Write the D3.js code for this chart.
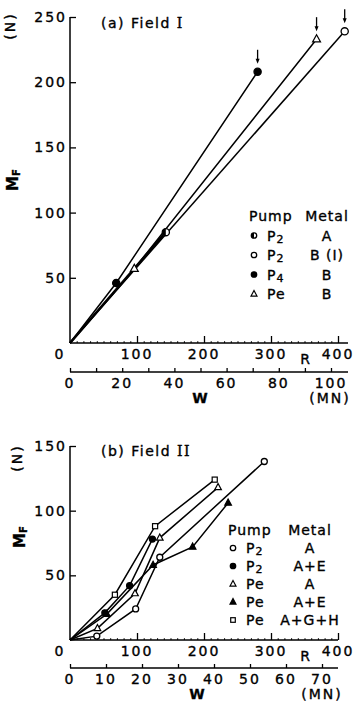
<!DOCTYPE html>
<html>
<head>
<meta charset="utf-8">
<script src="https://cdn.jsdelivr.net/npm/d3@7"></script>
<style>
  body { margin: 0; background: #fff; }
  svg text { font-family: "DejaVu Sans", sans-serif; fill: #000; stroke: #000; stroke-width: 0.35px; }
</style>
</head>
<body>
<div class="chart"></div>
<script>
// tick values
const rTicks = [0, 100, 200, 300, 400];
const wTicksA = [0, 20, 40, 60, 80, 100];
const wTicksB = [0, 10, 20, 30, 40, 50, 60, 70];
const mTicksA = [50, 100, 150, 200, 250];
const mTicksB = [50, 100, 150];

// (a) Field I  -- [R, MF]
const p2A_a = [[0, 0], [143, 85]];
const p2B_a = [[0, 0], [410, 239]];
const p4B_a = [[0, 0], [69, 46], [280, 208]];
const peB_a = [[0, 0], [96, 57], [368, 233]];
const arrowsA = [[280, 208], [368, 233], [410, 239]];

const legPumpA = ["P2", "P2", "P4", "Pe"];
const legMetalA = ["A", "B (I)", "B", "B"];
const legSymA = ["half", "open", "filled", "tri"];

// (b) Field II
const p2A_b = [[0, 0], [40, 3], [98, 24], [134, 64], [290, 138]];
const p2AE_b = [[0, 0], [52, 21], [89, 42], [123, 78]];
const peA_b = [[0, 0], [41, 9], [97, 36], [134, 79], [221, 118]];
const peAE_b = [[0, 0], [55, 20], [124, 58], [183, 72], [236, 106]];
const peAGH_b = [[0, 0], [67, 35], [127, 88], [216, 124]];

const legPumpB = ["P2", "P2", "Pe", "Pe", "Pe"];
const legMetalB = ["A", "A+E", "A", "A+E", "A+G+H"];
const legSymB = ["open", "filled", "tri", "filledtri", "square"];

const svg = d3.select(".chart").append("svg")
    .attr("width", 357)
    .attr("height", 707);

function pumpText(sel, s, size) {
  sel.append("tspan").text(s[0]);
  sel.append("tspan").text(s.slice(1))
    .attr("font-size", /\d/.test(s[1]) ? size - 3 : size)
    .attr("dy", /\d/.test(s[1]) ? 2 : 0);
}

function marker(g, type, x, y, r) {
  if (type == "open" || type == "filled") {
    g.append("circle").attr("cx", x).attr("cy", y).attr("r", r)
      .attr("fill", type == "filled" ? "#000" : "#fff")
      .attr("stroke", "#000").attr("stroke-width", 1.3);
  } else if (type == "half") {
    g.append("circle").attr("cx", x).attr("cy", y).attr("r", r)
      .attr("fill", "#fff").attr("stroke", "#000").attr("stroke-width", 1.3);
    g.append("path")
      .attr("d", `M${x},${y - r}A${r},${r} 0 0 0 ${x},${y + r}Z`)
      .attr("fill", "#000");
  } else if (type == "tri" || type == "filledtri") {
    const h = r * 1.1;
    g.append("path")
      .attr("d", `M${x},${y - h - 0.5}L${x + h},${y + h * 0.7}L${x - h},${y + h * 0.7}Z`)
      .attr("fill", type == "filledtri" ? "#000" : "#fff")
      .attr("stroke", "#000").attr("stroke-width", 1.2);
  } else if (type == "square") {
    g.append("rect").attr("x", x - r * 0.85).attr("y", y - r * 0.85)
      .attr("width", r * 1.7).attr("height", r * 1.7)
      .attr("fill", "#fff").attr("stroke", "#000").attr("stroke-width", 1.2);
  }
}

function panel(cfg) {
  const g = svg.append("g");
  const x = d3.scaleLinear().domain([0, 400]).range([70, 338]);
  const y = d3.scaleLinear().domain([0, cfg.mMax]).range([cfg.y0, cfg.yTop]);
  const w = d3.scaleLinear().domain([0, cfg.wMax]).range([70, cfg.wEnd]);

  // y axis, ticks inward
  g.append("g").attr("transform", "translate(70,0)")
    .call(d3.axisRight(y).tickValues(cfg.mTicks).tickSize(6).tickFormat(""))
    .call(a => a.selectAll(".tick line").attr("stroke-width", 1.3))
    .call(a => a.select(".domain").attr("d", `M0,${cfg.y0}V${cfg.yTop}`).attr("stroke-width", 1.5));
  g.selectAll(".mlab").data(cfg.mTicks).enter().append("text")
    .attr("x", 67).attr("y", d => y(d) + 5)
    .attr("text-anchor", "end").attr("font-size", 14).attr("letter-spacing", 2)
    .text(d => d);

  // R axis
  g.append("g").attr("transform", `translate(0,${cfg.y0})`)
    .call(d3.axisTop(x).tickValues(rTicks.slice(1)).tickSize(7).tickFormat("").tickSizeOuter(0))
    .call(a => a.selectAll(".tick line").attr("stroke-width", 1.3))
    .call(a => a.select(".domain").attr("d", `M70,0H${cfg.rEnd}`).attr("stroke-width", 1.5));
  g.append("g").attr("transform", `translate(0,${cfg.y0})`)
    .call(d3.axisTop(x).ticks(40).tickSize(1.8).tickFormat("").tickSizeOuter(0))
    .call(a => a.select(".domain").remove());
  g.selectAll(".rlab").data(rTicks).enter().append("text")
    .attr("x", d => x(d) - (d == 0 ? 10 : 0)).attr("y", cfg.y0 + 16)
    .attr("text-anchor", "middle").attr("font-size", 14).attr("letter-spacing", 2)
    .text(d => d);
  g.append("text").attr("x", 305).attr("y", cfg.y0 + 21)
    .attr("text-anchor", "middle").attr("font-size", 14).text("R");

  // W axis
  const wy = cfg.y0 + cfg.wGap;
  g.append("g").attr("transform", `translate(0,${wy})`)
    .call(d3.axisTop(w).ticks(cfg.wMax / 10).tickSize(4).tickFormat("").tickSizeOuter(0))
    .call(a => a.selectAll(".tick line").attr("stroke-width", 1.3))
    .call(a => a.select(".domain").attr("d", `M70,0H${cfg.rEnd}`).attr("stroke-width", 1.5));
  g.selectAll(".wlab").data(cfg.wTicks).enter().append("text")
    .attr("x", d => w(d)).attr("y", wy + 16)
    .attr("text-anchor", "middle").attr("font-size", 14).attr("letter-spacing", 2)
    .text(d => d);
  g.append("text").attr("x", cfg.wLabX).attr("y", wy + 31)
    .attr("text-anchor", "middle").attr("font-size", 14).attr("font-weight", "bold").text("W");
  g.append("text").attr("x", cfg.mnX).attr("y", wy + 31)
    .attr("text-anchor", "middle").attr("font-size", 14).attr("letter-spacing", 2).text("(MN)");

  // y titles
  g.append("text").attr("transform", `translate(${cfg.nX},${cfg.nY}) rotate(-90)`)
    .attr("text-anchor", "middle").attr("font-size", 14).attr("letter-spacing", 2).text("(N)");
  const mt = g.append("text").attr("transform", `translate(${cfg.nX + 3},${cfg.mfY}) rotate(-90)`)
    .attr("text-anchor", "middle").attr("font-size", 15).attr("font-weight", "bold");
  mt.append("tspan").text("M");
  mt.append("tspan").text("F").attr("font-size", 10).attr("dy", 2);

  // title
  const tt = g.append("text").attr("x", 101).attr("y", cfg.titleY)
    .attr("font-size", 14).attr("letter-spacing", 1.5);
  tt.append("tspan").text(cfg.title);
  tt.append("tspan").text(cfg.numeral).attr("font-family", "DejaVu Serif");

  // lines
  const line = d3.line().x(d => x(d[0])).y(d => y(d[1]));
  cfg.series.forEach(s => {
    g.append("path").datum(s.data).attr("d", line)
      .attr("fill", "none").attr("stroke", "#000").attr("stroke-width", s.sw || 1.5);
  });
  cfg.series.forEach(s => {
    s.data.slice(1).forEach(d => marker(g, s.sym, x(d[0]), y(d[1]), cfg.mr));
  });

  // arrows
  (cfg.arrows || []).forEach(d => {
    const ax = x(d[0]), ay = y(d[1]);
    g.append("line").attr("x1", ax).attr("x2", ax).attr("y1", ay - 22).attr("y2", ay - 12)
      .attr("stroke", "#000").attr("stroke-width", 1.3);
    g.append("path").attr("d", `M${ax - 2},${ay - 13}L${ax + 2},${ay - 13}L${ax},${ay - 8}Z`)
      .attr("fill", "#000");
  });

  // legend
  const lg = g.append("g");
  lg.append("text").attr("x", cfg.legX - 5).attr("y", cfg.legY)
    .attr("font-size", 14).attr("letter-spacing", 1).text("Pump");
  lg.append("text").attr("x", cfg.metX).attr("y", cfg.legY)
    .attr("text-anchor", "middle").attr("font-size", 14).attr("letter-spacing", 1).text("Metal");
  cfg.legPump.forEach((p, i) => {
    const ry = cfg.legY + (i + 1) * cfg.legStep;
    marker(lg, cfg.legSym[i], cfg.legX, ry - 5, 2.7);
    const t = lg.append("text").attr("x", cfg.legX + 13).attr("y", ry)
      .attr("font-size", 14).attr("letter-spacing", 1);
    pumpText(t, p, 14);
    lg.append("text").attr("x", cfg.metX).attr("y", ry)
      .attr("text-anchor", "middle").attr("font-size", 14).attr("letter-spacing", 1)
      .text(cfg.legMetal[i]);
  });
}

panel({
  mMax: 250, y0: 343, yTop: 17, mTicks: mTicksA,
  wMax: 100, wEnd: 331, wTicks: wTicksA, wGap: 29, rEnd: 348,
  wLabX: 200, mnX: 330,
  nX: 15, nY: 26, mfY: 180,
  title: "(a) Field ", numeral: "I", titleY: 28,
  mr: 3.6,
  series: [
    { data: p2B_a, sym: "open" },
    { data: peB_a, sym: "tri" },
    { data: p4B_a, sym: "filled" },
    { data: p2A_a, sym: "half", sw: 2.6 }
  ],
  arrows: arrowsA,
  legX: 254, legY: 221, legStep: 19.5, metX: 327,
  legPump: legPumpA, legMetal: legMetalA, legSym: legSymA
});

panel({
  mMax: 150, y0: 640, yTop: 446, mTicks: mTicksB,
  wMax: 70, wEnd: 322, wTicks: wTicksB, wGap: 28, rEnd: 338,
  wLabX: 197, mnX: 322,
  nX: 22, nY: 458, mfY: 537,
  title: "(b) Field ", numeral: "II", titleY: 456,
  mr: 3,
  series: [
    { data: p2A_b, sym: "open" },
    { data: p2AE_b, sym: "filled" },
    { data: peA_b, sym: "tri" },
    { data: peAE_b, sym: "filledtri" },
    { data: peAGH_b, sym: "square" }
  ],
  legX: 233, legY: 535, legStep: 18, metX: 310,
  legPump: legPumpB, legMetal: legMetalB, legSym: legSymB
});
</script>
</body>
</html>
